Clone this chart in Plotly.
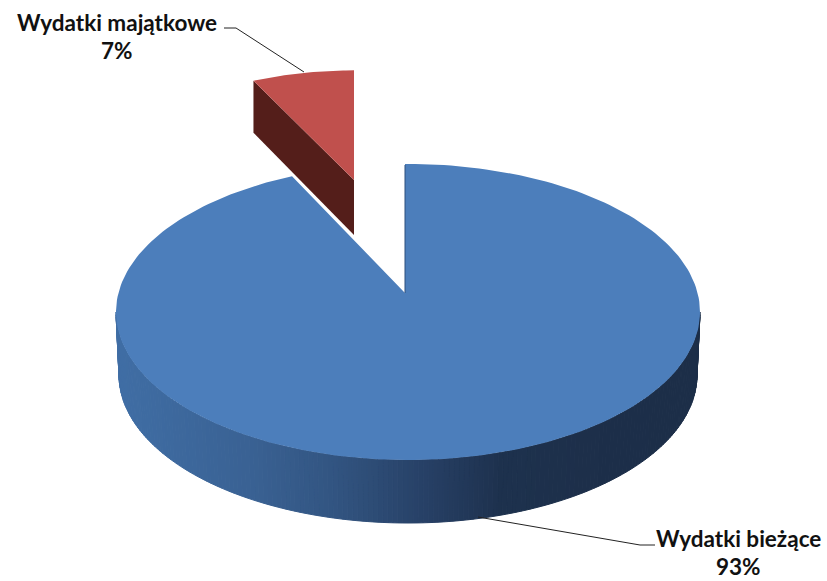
import numpy as np
import plotly.graph_objects as go

CATEGORIES = ["Wydatki bieżące", "Wydatki majątkowe"]
VALUES = [93.5, 6.5]
PERCENT_LABELS = ["93%", "7%"]

# scene geometry in page pixels
W, H = 827, 581
CX, CY, RX, RY = 408, 312, 292, 148
BCX, BCY, BRX, BRY = 408, 375, 289, 148
AX, AY = 405, 293
RED_DX, RED_DY, RED_SX, RED_SY, RED_DEPTH = -51, -113, 0.89, 0.85, 55

BLUE = "#4c7ebb"
RED = "#c0504d"
RED_SIDE = "#541e1a"
STOP_X = [118, 250, 340, 420, 500, 600, 700]
STOP_R = [64, 58, 50, 40, 30, 29, 28]
STOP_G = [110, 98, 84, 66, 50, 47, 46]
STOP_B = [165, 148, 128, 104, 78, 74, 72]


def rim(t):
    return CX + RX * np.sin(t), CY - RY * np.cos(t)


def bottom(t):
    return BCX + BRX * np.sin(t), BCY - BRY * np.cos(t)


def poly(fig, x, y, color, lw=0):
    fig.add_trace(go.Scatter(
        x=list(x), y=list(y), mode="lines", fill="toself", fillcolor=color,
        line=dict(color=color, width=lw), hoverinfo="skip", showlegend=False))


total = sum(VALUES)
blue_sweep = 2 * np.pi * VALUES[0] / total
fig = go.Figure()

# blue side wall, painted as narrow strips to give the gradient
edges = np.linspace(np.pi / 2, 3 * np.pi / 2, 181)
for a, b in zip(edges[:-1], edges[1:]):
    ts = np.linspace(a, b, 3)
    x1, y1 = rim(ts)
    x2, y2 = bottom(ts[::-1])
    xm = (x1.mean() + x2.mean()) / 2
    col = "rgb(%d,%d,%d)" % (np.interp(xm, STOP_X, STOP_R),
                             np.interp(xm, STOP_X, STOP_G),
                             np.interp(xm, STOP_X, STOP_B))
    poly(fig, np.r_[x1, x2, x1[0]], np.r_[y1, y2, y1[0]], col, 1)

# blue top
ts = np.linspace(0, blue_sweep, 240)
x, y = rim(ts)
x[0] = AX
poly(fig, np.r_[AX, x, AX], np.r_[AY, y, AY], BLUE)
fig.add_trace(go.Scatter(x=[AX, AX], y=[AY, y[0] + 1], mode="lines",
                         line=dict(color="#2d4f7c", width=1),
                         hoverinfo="skip", showlegend=False))

# exploded red slice
ts = np.linspace(blue_sweep, 2 * np.pi, 40)
x, y = rim(ts)
x[-1] = AX
rx = AX + RED_DX + RED_SX * (x - AX)
ry = AY + RED_DY + RED_SY * (y - AY)
ax, ay = AX + RED_DX, AY + RED_DY
poly(fig, [rx[0], ax, ax, rx[0]],
     [ry[0], ay, ay + RED_DEPTH, ry[0] + RED_DEPTH - 3], RED_SIDE)
poly(fig, np.r_[ax, rx, ax], np.r_[ay, ry, ay], RED)

# leader lines
for lx, ly in [([224, 236, 304], [28, 28, 72]), ([478, 640, 655], [517, 545, 545])]:
    fig.add_trace(go.Scatter(x=lx, y=ly, mode="lines",
                             line=dict(color="#222222", width=1),
                             hoverinfo="skip", showlegend=False))

FONT = dict(family="Lato", size=22.5, color="#111111")
for tx, ty, txt in [(117, 22, CATEGORIES[1]), (117, 50, PERCENT_LABELS[1]),
                    (738, 538, CATEGORIES[0]), (738, 566, PERCENT_LABELS[0])]:
    fig.add_annotation(x=tx, y=ty, text="<b>%s</b>" % txt, showarrow=False,
                       xanchor="center", yanchor="middle", font=FONT)

fig.update_layout(width=W, height=H, margin=dict(l=0, r=0, t=0, b=0),
                  paper_bgcolor="white", plot_bgcolor="white",
                  xaxis=dict(range=[0, W], visible=False),
                  yaxis=dict(range=[H, 0], visible=False))
fig.write_html("out.html", config=dict(displayModeBar=False),
               post_script="document.body.style.margin='0';document.body.style.overflow='hidden';")
